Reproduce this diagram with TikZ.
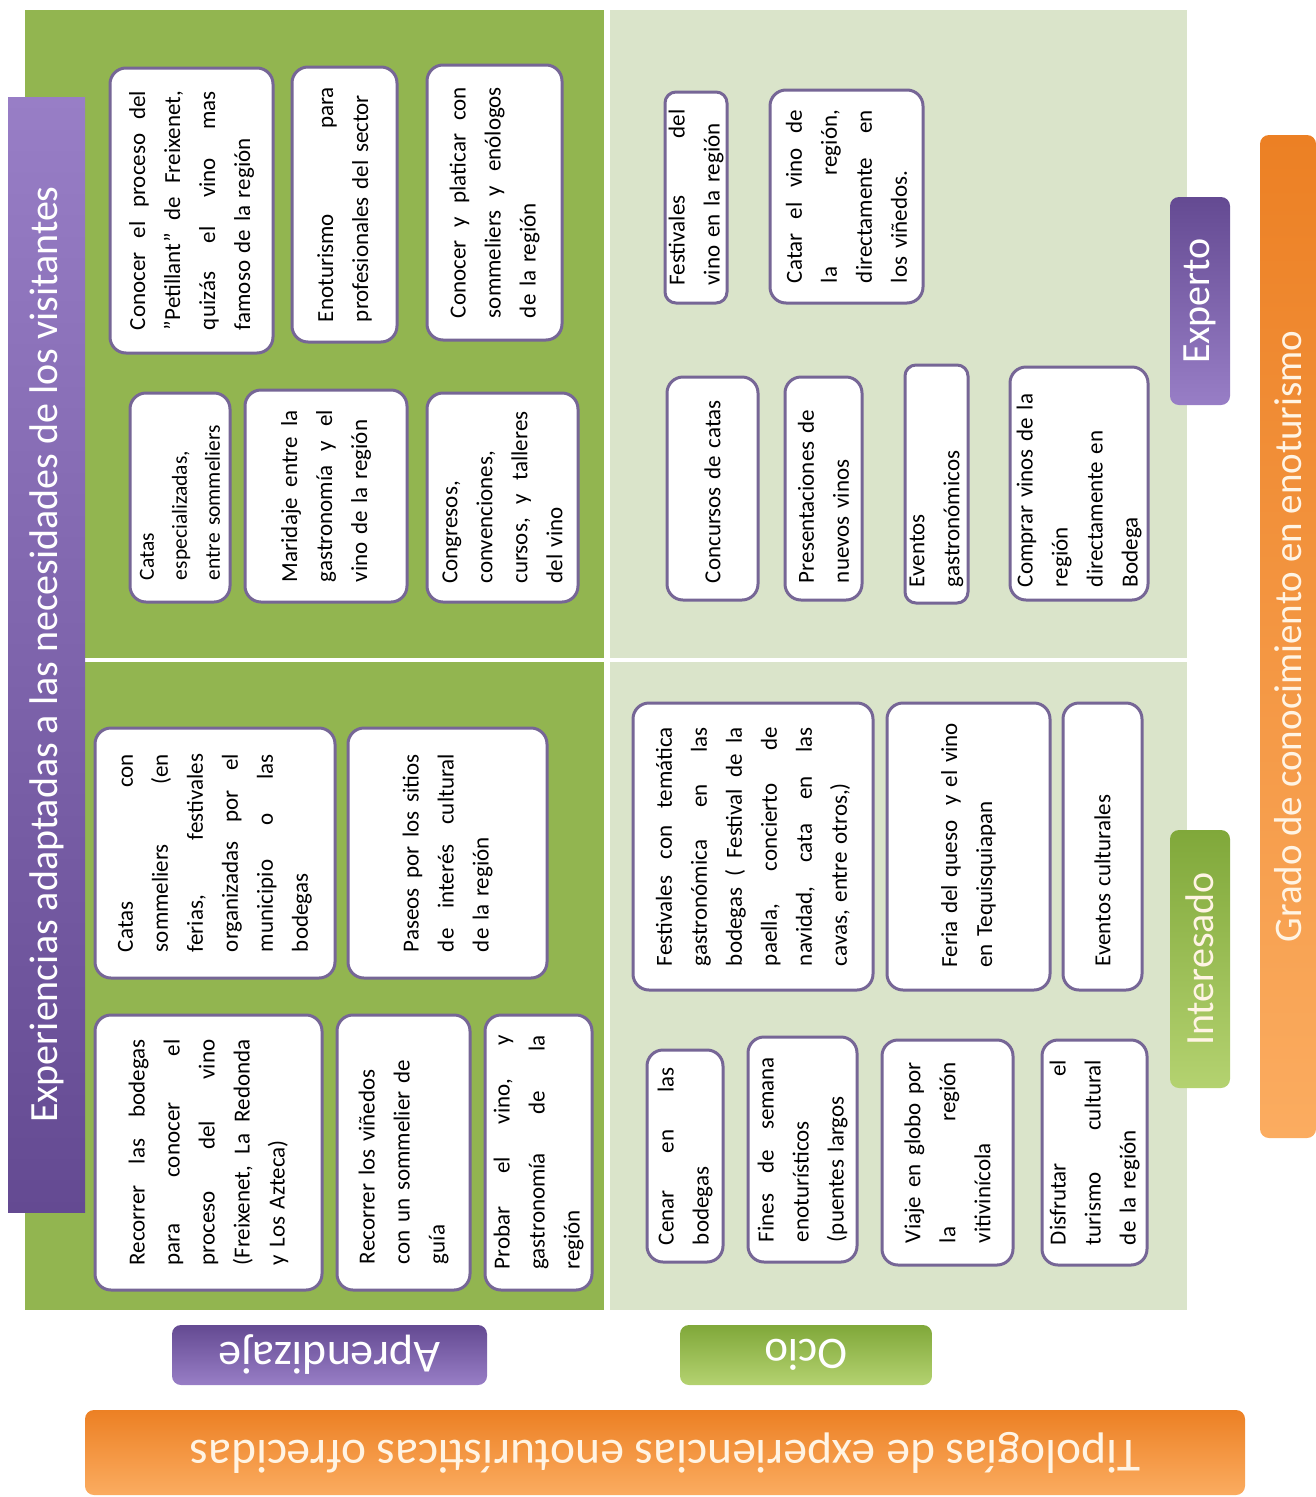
\documentclass[tikz,border=0pt]{standalone}
\usepackage{fontspec}
\setmainfont{Carlito}
\usepackage{xcolor}

\definecolor{verdeosc}{RGB}{146,181,80}
\definecolor{verdecla}{RGB}{218,228,202}
\definecolor{borde}{RGB}{118,102,150}
\definecolor{moradoL}{RGB}{152,126,198}
\definecolor{moradoD}{RGB}{100,74,146}
\definecolor{naranjaL}{RGB}{251,172,96}
\definecolor{naranjaD}{RGB}{236,128,36}
\definecolor{verdeL}{RGB}{180,210,112}
\definecolor{verdeD}{RGB}{128,168,58}
\definecolor{crema}{RGB}{255,244,228}

\begin{document}
\begin{tikzpicture}[x=1pt, y=-1pt,
    caja/.style={draw=borde, line width=3pt, fill=white, rounded corners=16pt,
        rotate=90, align=left, inner sep=0pt, font=\fontsize{23}{35}\selectfont},
    etiqueta/.style={rounded corners=9pt, inner sep=0pt, text=white,
        font=\fontsize{40}{48}\selectfont}]
    \useasboundingbox (0,0) rectangle (1316,1497);

    % Quadrants
    \fill[verdeosc] (25,10) rectangle (604,658);
    \fill[verdeosc] (25,662) rectangle (604,1310);
    \fill[verdecla] (610,10) rectangle (1187,658);
    \fill[verdecla] (610,662) rectangle (1187,1310);

    % Left axis bar
    \node[rotate=90, minimum width=1115pt, minimum height=77pt, inner sep=0pt,
        top color=moradoL, bottom color=moradoD, text=white,
        font=\fontsize{40}{48}\selectfont] (necesidades) at (46.5,654.5)
        {Experiencias adaptadas a las necesidades de los visitantes};

    % Aprendizaje - Experto
    \node[caja, minimum width=285pt, minimum height=163pt, text width=239pt] (petillant) at (191.5,210.5)
        {Conocer\hfill el\hfill proceso\hfill del\\
         ”Petillant”\hfill de\hfill Freixenet,\\
         quizás\hfill el\hfill vino\hfill mas\\
         famoso de la región};
    \node[caja, minimum width=275pt, minimum height=105pt, text width=235pt] (profesionales) at (344.5,204.5)
        {Enoturismo\hfill para\\
         profesionales del sector};
    \node[caja, minimum width=275pt, minimum height=135pt, text width=231pt] (enologos) at (494.5,202.5)
        {Conocer\hfill y\hfill platicar\hfill con\\
         sommeliers\hfill y\hfill enólogos\\
         de la región};
    \node[caja, minimum width=209pt, minimum height=100pt, text width=165pt,
        font=\fontsize{21.5}{33}\selectfont] (especializadas) at (180,497.5)
        {Catas\\
         especializadas,\\
         entre sommeliers};
    \node[caja, minimum width=212pt, minimum height=162pt, text width=172pt] (maridaje) at (326,496)
        {Maridaje\hfill entre\hfill la\\
         gastronomía\hfill y\hfill el\\
         vino de la región};
    \node[caja, minimum width=209pt, minimum height=151pt, text width=172pt] (congresos) at (502.5,497.5)
        {Congresos,\\
         convenciones,\\
         cursos,\hfill y\hfill talleres\\
         del vino};

    % Aprendizaje - Interesado
    \node[caja, minimum width=250pt, minimum height=240pt, text width=198pt] (catas) at (215,853)
        {Catas\hfill con\\
         sommeliers\hfill (en\\
         ferias,\hfill festivales\\
         organizadas\hfill por\hfill el\\
         municipio\hfill o\hfill las\\
         bodegas};
    \node[caja, minimum width=250pt, minimum height=199pt, text width=198pt] (paseos) at (447.5,853)
        {Paseos\hfill por\hfill los\hfill sitios\\
         de\hfill interés\hfill cultural\\
         de la región};
    \node[caja, minimum width=275pt, minimum height=227pt, text width=226pt] (bodegas) at (208.5,1152.5)
        {Recorrer\hfill las\hfill bodegas\\
         para\hfill conocer\hfill el\\
         proceso\hfill del\hfill vino\\
         (Freixenet,\hfill La\hfill Redonda\\
         y Los Azteca)};
    \node[caja, minimum width=275pt, minimum height=133pt, text width=223pt] (vinedos) at (403.5,1152.5)
        {Recorrer los viñedos\\
         con un sommelier de\\
         guía};
    \node[caja, minimum width=275pt, minimum height=107pt, text width=234pt] (probar) at (538.5,1152.5)
        {Probar\hfill el\hfill vino,\hfill y\\
         gastronomía\hfill de\hfill la\\
         región};

    % Ocio - Experto
    \node[caja, minimum width=211pt, minimum height=62pt, text width=176pt, rounded corners=11pt] (festivales) at (696,197.5)
        {Festivales\hfill del\\
         vino en la región};
    \node[caja, minimum width=213pt, minimum height=153pt, text width=173pt] (catar) at (846.5,196.5)
        {Catar\hfill el\hfill vino\hfill de\\
         la\hfill región,\\
         directamente\hfill en\\
         los viñedos.};
    \node[caja, minimum width=223pt, minimum height=91pt, text width=189pt] (concursos) at (712.5,488.5)
        {Concursos de catas};
    \node[caja, minimum width=223pt, minimum height=77pt, text width=189pt] (presentaciones) at (823.5,488.5)
        {Presentaciones de\\
         nuevos vinos};
    \node[caja, minimum width=238pt, minimum height=63pt, text width=206pt, rounded corners=11pt] (gastronomicos) at (936.5,484)
        {Eventos\\
         gastronómicos};
    \node[caja, minimum width=233pt, minimum height=138pt, text width=207pt] (comprar) at (1079,483.5)
        {Comprar vinos de la\\
         región\\
         directamente en\\
         Bodega};

    % Ocio - Interesado
    \node[caja, minimum width=287pt, minimum height=240pt, text width=239pt] (tematica) at (753,846.5)
        {Festivales\hfill con\hfill temática\\
         gastronómica\hfill en\hfill las\\
         bodegas\hfill (\hfill Festival\hfill de\hfill la\\
         paella,\hfill concierto\hfill de\\
         navidad,\hfill cata\hfill en\hfill las\\
         cavas, entre otros,)};
    \node[caja, minimum width=287pt, minimum height=163pt, text width=242pt] (queso) at (968.5,846.5)
        {\mbox{Feria del queso \ y el vino}\\
         en Tequisquiapan};
    \node[caja, minimum width=287pt, minimum height=79pt, text width=240pt] (culturales) at (1102.5,846.5)
        {Eventos culturales};
    \node[caja, minimum width=212pt, minimum height=76pt, text width=178pt] (cenar) at (685,1156)
        {Cenar\hfill en\hfill las\\
         bodegas};
    \node[caja, minimum width=225pt, minimum height=109pt, text width=185pt] (fines) at (802.5,1149.5)
        {Fines\hfill de\hfill semana\\
         enoturísticos\\
         (puentes largos};
    \node[caja, minimum width=225pt, minimum height=131pt, text width=181pt] (globo) at (947.5,1152.5)
        {Viaje\hfill en\hfill globo\hfill por\\
         la\hfill región\\
         vitivinícola};
    \node[caja, minimum width=225pt, minimum height=105pt, text width=185pt] (turismo) at (1094.5,1152.5)
        {Disfrutar\hfill el\\
         turismo\hfill cultural\\
         de la región};

    % Right axis
    \node[etiqueta, rotate=90, minimum width=208pt, minimum height=60pt,
        top color=moradoD, bottom color=moradoL] (experto) at (1200,301) {Experto};
    \node[etiqueta, rotate=90, minimum width=258pt, minimum height=60pt,
        top color=verdeD, bottom color=verdeL, text=crema] (interesado) at (1200,959) {Interesado};
    \node[etiqueta, rotate=90, minimum width=1003pt, minimum height=56pt,
        top color=naranjaD, bottom color=naranjaL, text=crema,
        font=\fontsize{39}{46}\selectfont] (grado) at (1288,636.5)
        {Grado de conocimiento en enoturismo};

    % Bottom axis
    \node[etiqueta, rotate=180, minimum width=315pt, minimum height=60pt,
        top color=moradoD, bottom color=moradoL, font=\fontsize{46}{54}\selectfont] (aprendizaje) at (329.5,1355) {Aprendizaje};
    \node[etiqueta, rotate=180, minimum width=252pt, minimum height=60pt,
        top color=verdeD, bottom color=verdeL, font=\fontsize{45}{54}\selectfont] (ocio) at (806,1355) {Ocio};
    \node[etiqueta, rotate=180, minimum width=1160pt, minimum height=85pt,
        top color=naranjaD, bottom color=naranjaL, text=crema,
        font=\fontsize{47.5}{56}\selectfont] (tipologias) at (665,1452.5)
        {Tipologías de experiencias enoturísticas ofrecidas};
\end{tikzpicture}
\end{document}
